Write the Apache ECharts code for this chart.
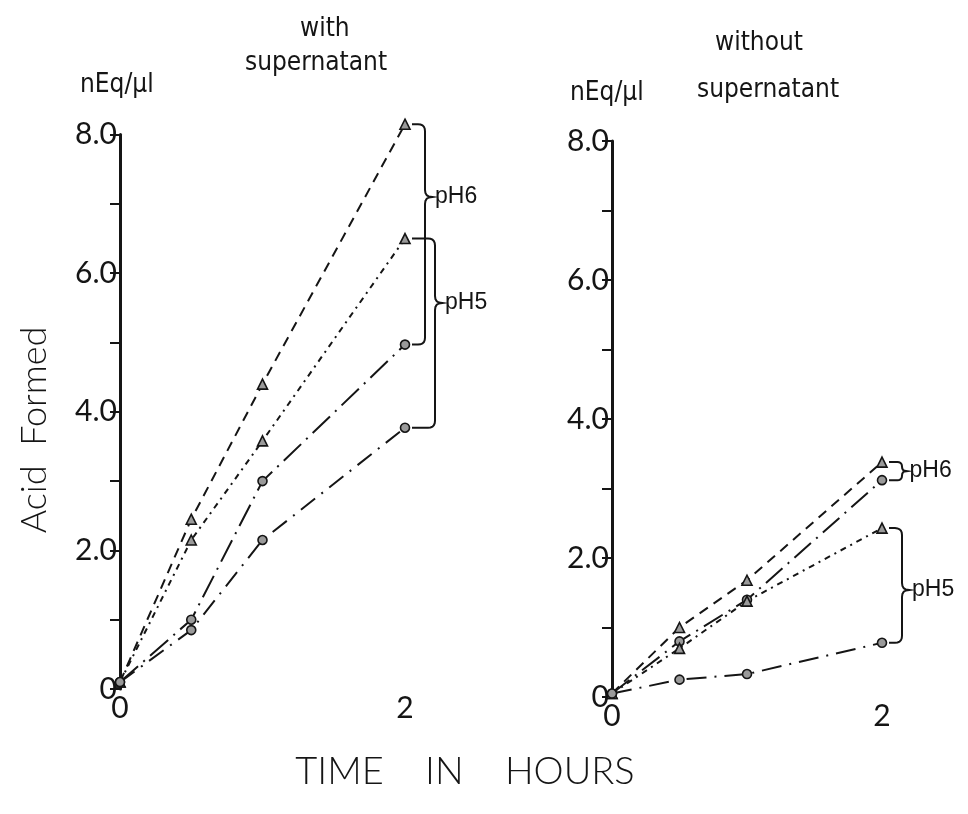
<!DOCTYPE html>
<html>
<head>
<meta charset="utf-8">
<script src="https://cdn.jsdelivr.net/npm/echarts@6/dist/echarts.min.js"></script>
<style>
  html, body { margin: 0; padding: 0; background: #ffffff; }
  #chart { width: 968px; height: 814px; }
</style>
</head>
<body>
<div id="chart"></div>
<script>
// Sampling times (hours)
const hours = [0, 0.5, 1, 2];

// Acid formed (nEq/µl), with supernatant
const withPH6Tri  = [0.10, 2.45, 4.40, 8.15];
const withPH5Tri  = [0.10, 2.15, 3.58, 6.50];
const withPH6Circ = [0.10, 1.00, 3.00, 4.97];
const withPH5Circ = [0.10, 0.85, 2.15, 3.77];

// Acid formed (nEq/µl), without supernatant
const woPH6Tri  = [0.05, 1.00, 1.68, 3.38];
const woPH6Circ = [0.05, 0.80, 1.40, 3.12];
const woPH5Tri  = [0.05, 0.70, 1.38, 2.43];
const woPH5Circ = [0.05, 0.25, 0.33, 0.78];

// Brace groupings at the 2 h points: [label, upper value, lower value, tip value]
const withBraces = [['pH6', 8.15, 4.97, 7.10], ['pH5', 6.50, 3.77, 5.57]];
const woBraces   = [['pH6', 3.38, 3.12, 3.25], ['pH5', 2.43, 0.78, 1.54]];

// Axis ranges and tick labels
const yRange = [0, 8];
const xRange = [0, 2];
const yTickLabels = { 0: '0', 2: '2.0', 4: '4.0', 6: '6.0', 8: '8.0' };
const xTickLabels = { 0: '0', 2: '2' };

const INK = '#151515';
const labelFont = 'Lato, "Open Sans", "DejaVu Sans", sans-serif';
const titleFont = '"Liberation Sans Narrow", "DejaVu Sans Condensed", "Liberation Sans", sans-serif';

const chart = echarts.init(document.getElementById('chart'), null, { renderer: 'canvas' });

function pairs(ys) { return hours.map((h, i) => [h, ys[i]]); }

function yAxis(gridIndex) {
  return {
    gridIndex, type: 'value', min: yRange[0], max: yRange[1], interval: 1,
    splitLine: { show: false },
    axisLine: { show: true, lineStyle: { color: INK, width: 3 } },
    axisTick: { show: true, length: 10, lineStyle: { color: INK, width: 2 } },
    axisLabel: {
      color: INK, fontSize: 30, fontFamily: labelFont, fontWeight: 400, margin: 3,
      formatter: v => (yTickLabels[v] !== undefined ? yTickLabels[v] : '')
    }
  };
}

function xAxis(gridIndex) {
  return {
    gridIndex, type: 'value', min: xRange[0], max: xRange[1], interval: 1,
    splitLine: { show: false },
    axisLine: { show: false },
    axisTick: { show: false },
    axisLabel: {
      color: INK, fontSize: 30, fontFamily: labelFont, fontWeight: 400, margin: 4,
      formatter: v => (xTickLabels[v] !== undefined ? xTickLabels[v] : '')
    }
  };
}

function lineSeries(gi, ys, symbol, dash) {
  return {
    type: 'line', xAxisIndex: gi, yAxisIndex: gi,
    data: pairs(ys),
    clip: false,
    symbol, symbolSize: symbol === 'triangle' ? 10 : 9,
    showSymbol: true,
    itemStyle: { color: '#9a9a9a', borderColor: INK, borderWidth: 1.6 },
    lineStyle: { color: INK, width: 2, type: dash },
    emphasis: { disabled: true },
    animation: false, z: 3
  };
}

// Brace drawn next to the 2 h markers, sampled as a polyline with rounded corners
function bracePoints(x0, xb, yTop, yTip, yBot, r) {
  const pts = [];
  const q = (a, c, b, n) => {
    for (let i = 1; i <= n; i++) {
      const t = i / n;
      pts.push([
        (1 - t) * (1 - t) * a[0] + 2 * (1 - t) * t * c[0] + t * t * b[0],
        (1 - t) * (1 - t) * a[1] + 2 * (1 - t) * t * c[1] + t * t * b[1]
      ]);
    }
  };
  pts.push([x0, yTop]);
  pts.push([xb - r, yTop]);
  q([xb - r, yTop], [xb, yTop], [xb, yTop + r], 5);
  pts.push([xb, yTip - r]);
  q([xb, yTip - r], [xb, yTip], [xb + r, yTip], 4);
  q([xb + r, yTip], [xb, yTip], [xb, yTip + r], 4);
  pts.push([xb, yBot - r]);
  q([xb, yBot - r], [xb, yBot], [xb - r, yBot], 5);
  pts.push([x0, yBot]);
  return pts;
}

function braceSeries(gi, braces, offsets) {
  return {
    type: 'custom', xAxisIndex: gi, yAxisIndex: gi,
    data: braces.map(b => [xRange[1], b[1], b[2], b[3]]),
    clip: false,
    renderItem: (params, api) => {
      const idx = params.dataIndex;
      const x = api.value(0);
      const top = api.coord([x, api.value(1)]);
      const tip = api.coord([x, api.value(3)]);
      const bot = api.coord([x, api.value(2)]);
      const xb = top[0] + offsets[idx];
      const r = Math.min(7, (bot[1] - top[1]) / 4);
      return {
        type: 'group',
        children: [
          {
            type: 'polyline',
            shape: { points: bracePoints(top[0] + 7, xb, top[1], tip[1], bot[1], r) },
            style: { stroke: INK, lineWidth: 2, fill: null }
          },
          {
            type: 'text',
            style: {
              x: xb + r + 3, y: tip[1], text: braces[idx][0],
              fill: INK, font: '400 23px "Liberation Sans", Arial, sans-serif',
              verticalAlign: 'middle', align: 'left'
            }
          }
        ]
      };
    },
    animation: false, silent: true, z: 2
  };
}

const option = {
  backgroundColor: '#ffffff',
  animation: false,
  grid: [
    { left: 120, top: 134.6, width: 285, height: 554.4 },
    { left: 612, top: 141, width: 270, height: 556 }
  ],
  xAxis: [xAxis(0), xAxis(1)],
  yAxis: [yAxis(0), yAxis(1)],
  series: [
    lineSeries(0, withPH6Tri, 'triangle', [10, 7]),
    lineSeries(0, withPH5Tri, 'triangle', [6, 5, 2, 5]),
    lineSeries(0, withPH6Circ, 'circle', [24, 7, 2, 7]),
    lineSeries(0, withPH5Circ, 'circle', [18, 8, 2, 8]),
    braceSeries(0, withBraces, [20, 30]),
    lineSeries(1, woPH6Tri, 'triangle', [10, 7]),
    lineSeries(1, woPH6Circ, 'circle', [22, 7, 2, 7]),
    lineSeries(1, woPH5Tri, 'triangle', [6, 5, 2, 5]),
    lineSeries(1, woPH5Circ, 'circle', [20, 8, 2, 8]),
    braceSeries(1, woBraces, [20, 20])
  ],
  graphic: [
    { type: 'text', left: 300, top: 16, style: { text: 'with', font: '26px ' + titleFont, fill: INK } },
    { type: 'text', left: 245, top: 50, style: { text: 'supernatant', font: '26px ' + titleFont, fill: INK } },
    { type: 'text', left: 80, top: 72, style: { text: 'nEq/µl', font: '26px ' + titleFont, fill: INK } },
    { type: 'text', left: 715, top: 30, style: { text: 'without', font: '26px ' + titleFont, fill: INK } },
    { type: 'text', left: 697, top: 77, style: { text: 'supernatant', font: '26px ' + titleFont, fill: INK } },
    { type: 'text', left: 570, top: 80, style: { text: 'nEq/µl', font: '26px ' + titleFont, fill: INK } },
    {
      type: 'text', x: 34, y: 430, rotation: Math.PI / 2,
      style: { text: 'Acid  Formed', font: '300 36px ' + labelFont, fill: INK, align: 'center', verticalAlign: 'middle' }
    },
    {
      type: 'text', x: 465, y: 772,
      style: { text: 'TIME    IN    HOURS', font: '300 38px ' + labelFont, fill: INK, align: 'center', verticalAlign: 'middle' }
    }
  ]
};

chart.setOption(option);
</script>
</body>
</html>
